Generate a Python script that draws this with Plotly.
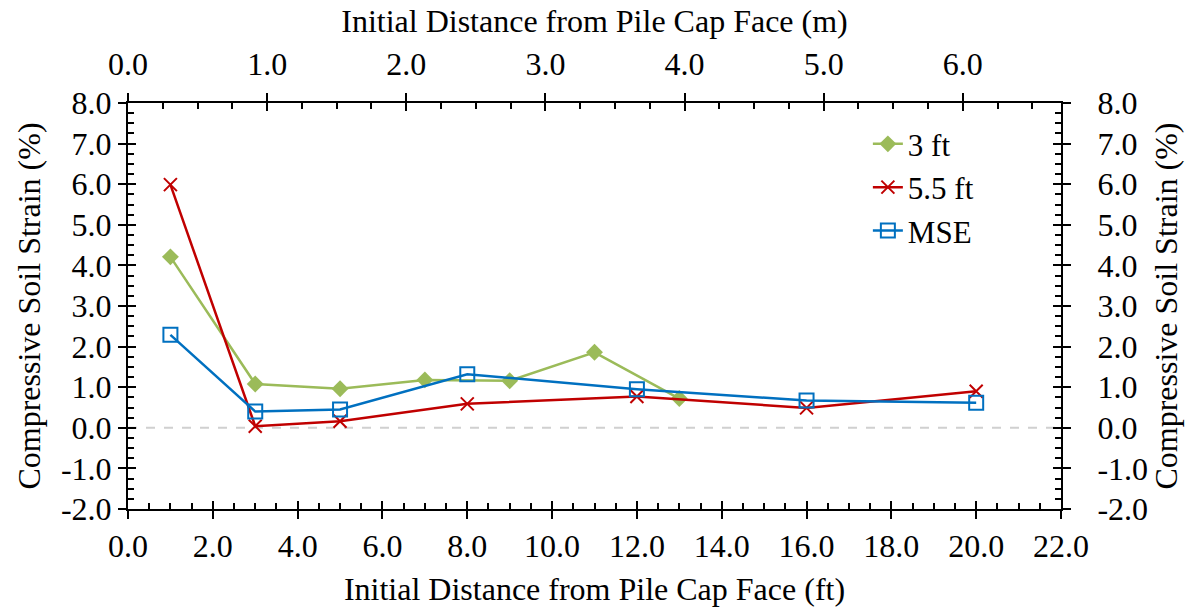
import plotly.graph_objects as go

# Measured compressive soil strain (%) versus initial distance from pile cap face (ft)
dist_3ft = [1, 3, 5, 7, 9, 11, 13]
strain_3ft = [4.21, 1.08, 0.96, 1.18, 1.16, 1.86, 0.72]

dist_55ft = [1, 3, 5, 8, 12, 16, 20]
strain_55ft = [5.99, 0.04, 0.16, 0.59, 0.77, 0.49, 0.90]

dist_mse = [1, 3, 5, 8, 12, 16, 20]
strain_mse = [2.29, 0.40, 0.45, 1.32, 0.95, 0.67, 0.62]

ft_ticks = [0, 2, 4, 6, 8, 10, 12, 14, 16, 18, 20, 22]
m_ticks = [0, 1, 2, 3, 4, 5, 6]
y_ticks = [-2, -1, 0, 1, 2, 3, 4, 5, 6, 7, 8]

FT_PER_M = 3.28084
X_MAX_FT = 22
X_MAX_M = X_MAX_FT / FT_PER_M

FONT = "Times New Roman, Liberation Serif, DejaVu Serif, serif"
GREEN = "#9BBB59"
RED = "#C00000"
BLUE = "#0070C0"

fig = go.Figure()

fig.add_trace(go.Scatter(
    x=dist_3ft, y=strain_3ft, name="3 ft", mode="lines+markers",
    line=dict(color=GREEN, width=2.5),
    marker=dict(symbol="diamond", size=13, color=GREEN),
))
fig.add_trace(go.Scatter(
    x=dist_55ft, y=strain_55ft, name="5.5 ft", mode="lines+markers",
    line=dict(color=RED, width=2.5),
    marker=dict(symbol="x-thin-open", size=13, color=RED, line=dict(color=RED, width=2)),
))
fig.add_trace(go.Scatter(
    x=dist_mse, y=strain_mse, name="MSE", mode="lines+markers",
    line=dict(color=BLUE, width=2.5),
    marker=dict(symbol="square-open", size=14, color=BLUE, line=dict(color=BLUE, width=2)),
))

# Empty traces so that the secondary and tick-only axes are drawn
for xa, ya in [("x2", "y"), ("x", "y2"), ("x3", "y3"), ("x4", "y4")]:
    fig.add_trace(go.Scatter(x=[], y=[], xaxis=xa, yaxis=ya, showlegend=False,
                             hoverinfo="skip"))

# Dashed zero line
fig.add_shape(type="line", xref="paper", yref="y", x0=0, x1=1, y0=0, y1=0,
              line=dict(color="#D0D0D0", width=2, dash="dash"), layer="below")

SIZE = 32
tick_font = dict(family=FONT, size=SIZE, color="black")
title_font = dict(family=FONT, size=SIZE, color="black")
fmt = lambda vals: [f"{v:.1f}" for v in vals]

label_axis = dict(ticks="outside", ticklen=8, tickwidth=2, tickcolor="black",
                  showline=True, linewidth=2, linecolor="black", showgrid=False,
                  zeroline=False, tickfont=tick_font)
tick_axis = dict(ticks="inside", ticklen=8, tickwidth=2, tickcolor="black",
                 showline=False, showgrid=False, zeroline=False,
                 showticklabels=False)

fig.update_layout(
    width=1189, height=613,
    margin=dict(l=128, r=128, t=103, b=104),
    paper_bgcolor="white", plot_bgcolor="white",
    font=dict(family=FONT, size=SIZE, color="black"),
    showlegend=True,
    legend=dict(x=0.793, y=0.965, xanchor="left", yanchor="top",
                bgcolor="rgba(0,0,0,0)", font=dict(family=FONT, size=31),
                tracegroupgap=0),
    xaxis=dict(range=[0, X_MAX_FT], tickvals=ft_ticks, ticktext=fmt(ft_ticks),
               title=dict(text="Initial Distance from Pile Cap Face (ft)",
                          font=title_font, standoff=14),
               **label_axis),
    xaxis2=dict(range=[0, X_MAX_M], overlaying="x", side="top", anchor="y",
                tickvals=m_ticks, ticktext=fmt(m_ticks), ticklabelstandoff=5,
                title=dict(text="Initial Distance from Pile Cap Face (m)",
                           font=title_font, standoff=4),
                **label_axis),
    xaxis3=dict(range=[0, X_MAX_FT], overlaying="x", side="bottom", anchor="y3",
                tickvals=ft_ticks,
                minor=dict(dtick=0.5, ticks="inside", ticklen=6, tickwidth=2,
                           tickcolor="black"),
                **tick_axis),
    xaxis4=dict(range=[0, X_MAX_M], overlaying="x", side="top", anchor="y4",
                tickvals=m_ticks,
                minor=dict(dtick=0.25, ticks="inside", ticklen=6, tickwidth=2,
                           tickcolor="black"),
                **tick_axis),
    yaxis=dict(range=[-2, 8], tickvals=y_ticks, ticktext=fmt(y_ticks),
               title=dict(text="Compressive Soil Strain (%)", font=title_font,
                          standoff=11),
               **label_axis),
    yaxis2=dict(range=[-2, 8], overlaying="y", side="right", anchor="x",
                tickvals=y_ticks, ticktext=fmt(y_ticks), ticklabelstandoff=20,
                title=dict(text="Compressive Soil Strain (%)", font=title_font,
                           standoff=8),
                **label_axis),
    yaxis3=dict(range=[-2, 8], overlaying="y", side="left", anchor="x3",
                tickvals=y_ticks,
                minor=dict(dtick=0.25, ticks="inside", ticklen=6, tickwidth=2,
                           tickcolor="black"),
                **tick_axis),
    yaxis4=dict(range=[-2, 8], overlaying="y", side="right", anchor="x4",
                tickvals=y_ticks,
                minor=dict(dtick=0.25, ticks="inside", ticklen=6, tickwidth=2,
                           tickcolor="black"),
                **tick_axis),
)

fig.write_html("out.html")
